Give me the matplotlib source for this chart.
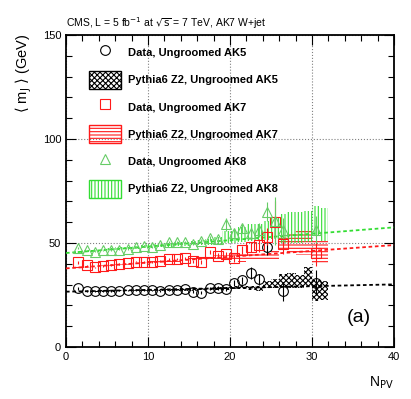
import numpy as np
import matplotlib
matplotlib.use("Agg")
import matplotlib.pyplot as plt
from matplotlib.patches import Patch
from matplotlib.lines import Line2D

plt.rcParams['font.family'] = ['Liberation Sans', 'DejaVu Sans']
plt.rcParams['hatch.linewidth'] = 0.8
plt.rcParams['axes.linewidth'] = 1.3

# --- data ---
npv_ak5 = [1.5, 2.5, 3.5, 4.5, 5.5, 6.5, 7.5, 8.5, 9.5, 10.5, 11.5, 12.5, 13.5, 14.5,
           15.5, 16.5, 17.5, 18.5, 19.5, 20.5, 21.5, 22.5, 23.5, 24.5, 26.5, 30.5]
mj_ak5 = [28.2, 26.9, 26.9, 26.9, 26.9, 27.1, 27.2, 27.4, 27.4, 27.2, 26.9, 27.2, 27.6, 28.0,
          26.6, 26.2, 28.2, 28.2, 27.9, 30.8, 32.0, 35.5, 32.5, 48.0, 26.8, 30.8]
err_ak5 = [0.6, 0.3, 0.3, 0.3, 0.3, 0.3, 0.3, 0.3, 0.3, 0.3, 0.4, 0.4, 0.4, 0.5,
           0.6, 0.7, 0.8, 0.9, 1.0, 1.3, 1.8, 3.0, 2.5, 4.0, 4.5, 6.0]

npv_ak7 = [1.5, 2.5, 3.5, 4.5, 5.5, 6.5, 7.5, 8.5, 9.5, 10.5, 11.5, 12.5, 13.5, 14.5,
           15.5, 16.5, 17.5, 18.5, 19.5, 20.5, 21.5, 22.5, 23.5, 24.5, 25.5, 26.5, 30.5]
mj_ak7 = [40.7, 39.2, 38.4, 39.0, 39.4, 39.9, 40.3, 41.1, 40.8, 40.9, 41.3, 42.2, 42.5, 42.6,
          41.2, 40.8, 45.5, 43.9, 44.5, 42.6, 46.6, 48.0, 48.8, 53.0, 60.0, 49.5, 45.0]
err_ak7 = [0.6, 0.3, 0.3, 0.3, 0.3, 0.3, 0.3, 0.3, 0.4, 0.4, 0.4, 0.5, 0.5, 0.6,
           0.7, 0.8, 1.0, 1.2, 1.4, 1.7, 2.0, 2.5, 3.0, 4.0, 10.0, 5.0, 6.0]

npv_ak8 = [1.5, 2.5, 3.5, 4.5, 5.5, 6.5, 7.5, 8.5, 9.5, 10.5, 11.5, 12.5, 13.5, 14.5,
           15.5, 16.5, 17.5, 18.5, 19.5, 20.5, 21.5, 22.5, 23.5, 24.5, 25.5, 26.5, 30.5]
mj_ak8 = [47.5, 46.4, 45.8, 46.4, 46.6, 46.8, 47.2, 48.0, 48.6, 48.1, 49.2, 50.6, 50.3, 50.5,
          49.6, 51.0, 52.3, 51.8, 59.0, 54.7, 57.0, 54.7, 56.3, 65.0, 60.7, 56.3, 56.3]
err_ak8 = [0.6, 0.3, 0.3, 0.3, 0.3, 0.3, 0.4, 0.4, 0.4, 0.5, 0.5, 0.5, 0.6, 0.7,
           0.8, 0.9, 1.1, 1.3, 3.0, 1.8, 2.2, 2.8, 3.2, 4.5, 11.5, 5.5, 6.5]

npv_mc = [1.5, 2.5, 3.5, 4.5, 5.5, 6.5, 7.5, 8.5, 9.5, 10.5, 11.5, 12.5, 13.5, 14.5, 15.5, 16.5,
          17.5, 18.5, 19.5, 20.5, 21.5, 22.5, 23.5, 24.5, 25.5, 26.5, 27.5, 28.5, 29.5, 30.5, 31.5]
mc_ak5 = [26.6, 26.7, 26.8, 26.9, 26.9, 27.0, 27.1, 27.2, 27.3, 27.3, 27.4, 27.5, 27.6, 27.6, 27.7, 27.8,
          27.9, 28.0, 28.1, 28.5, 29.0, 28.5, 28.0, 30.0, 30.5, 32.0, 32.0, 31.5, 34.0, 27.0, 27.0]
mc_ak5_err = [0.3, 0.3, 0.3, 0.3, 0.3, 0.3, 0.3, 0.3, 0.3, 0.4, 0.4, 0.4, 0.5, 0.5, 0.6, 0.6,
              0.7, 0.7, 0.8, 0.8, 1.0, 1.0, 1.2, 1.5, 2.0, 3.0, 3.5, 3.0, 4.5, 5.0, 4.5]
mc_ak7 = [38.2, 38.5, 38.8, 39.1, 39.3, 39.6, 39.9, 40.2, 40.5, 40.7, 41.0, 41.3, 41.6, 41.9, 42.1, 42.4,
          42.7, 43.0, 43.2, 43.0, 43.0, 43.5, 43.5, 43.0, 44.0, 50.0, 50.0, 50.0, 50.0, 46.0, 46.0]
mc_ak7_err = [0.3, 0.3, 0.3, 0.3, 0.3, 0.4, 0.4, 0.4, 0.4, 0.5, 0.5, 0.5, 0.6, 0.6, 0.7, 0.8,
              0.9, 1.0, 1.2, 1.5, 2.0, 1.5, 1.5, 1.5, 2.0, 4.0, 5.0, 6.0, 6.0, 6.0, 6.0]
mc_ak8 = [45.7, 46.0, 46.3, 46.6, 47.0, 47.3, 47.6, 47.9, 48.2, 48.5, 48.8, 49.1, 49.4, 49.7, 50.0, 50.3,
          50.6, 51.0, 53.0, 53.0, 54.0, 55.0, 55.0, 56.0, 57.0, 57.0, 57.5, 57.5, 58.0, 61.0, 59.0]
mc_ak8_err = [0.5, 0.5, 0.5, 0.5, 0.6, 0.6, 0.6, 0.7, 0.7, 0.8, 0.8, 0.9, 0.9, 1.0, 1.1, 1.2,
              1.5, 2.0, 3.0, 3.0, 3.5, 4.0, 4.0, 4.5, 5.0, 7.0, 7.5, 7.5, 7.5, 7.0, 8.0]

# linear fits (intercept, slope)
fit_ak5 = (26.6, 0.0875)
fit_ak7 = (37.8, 0.28)
fit_ak8 = (45.2, 0.308)

c_black = 'black'
c_red = '#ff1a1a'
c_green = '#33dd33'
c_green_pts = '#66cc66'

fig = plt.figure(figsize=(4.11, 3.99), dpi=100)
ax = fig.add_axes([66/411, 1-347/399, 328/411, 312/399])

def mc_boxes(center, err, color, hatch):
    center = np.array(center)
    err = np.array(err)
    ax.bar(npv_mc, 2*err, bottom=center-err, width=1.0, fill=False,
           hatch=hatch, edgecolor=color, linewidth=0, zorder=2)

mc_boxes(mc_ak5, mc_ak5_err, c_black, 'xxxxxx')
mc_boxes(mc_ak7, mc_ak7_err, c_red, '-----')
mc_boxes(mc_ak8, mc_ak8_err, c_green, '|||||')

xfit = np.linspace(0, 40, 50)
for (b, m), col in [(fit_ak5, c_black), (fit_ak7, c_red), (fit_ak8, c_green)]:
    ax.plot(xfit, b + m*xfit, ls=(0, (2, 1.5)), color=col, lw=1.3, zorder=3)

ax.errorbar(npv_ak5, mj_ak5, yerr=err_ak5, fmt='o', ms=7, mfc='none', mec=c_black,
            mew=0.8, ecolor=c_black, elinewidth=0.8, capsize=0, zorder=4)
ax.errorbar(npv_ak7, mj_ak7, yerr=err_ak7, fmt='s', ms=7.5, mfc='none', mec=c_red,
            mew=0.8, ecolor=c_red, elinewidth=0.8, capsize=0, zorder=4)
ax.errorbar(npv_ak8, mj_ak8, yerr=err_ak8, fmt='^', ms=7.5, mfc='none', mec=c_green_pts,
            mew=0.8, ecolor=c_green_pts, elinewidth=0.8, capsize=0, zorder=4)

ax.set_xlim(0, 40)
ax.set_ylim(0, 150)
ax.set_xticks([0, 10, 20, 30, 40])
ax.set_yticks([0, 50, 100, 150])
ax.set_xticks(np.arange(0, 41, 2), minor=True)
ax.set_yticks(np.arange(0, 151, 10), minor=True)
ax.tick_params(which='both', direction='in', top=True, right=True, labelsize=8)
ax.tick_params(which='major', length=7, width=0.8)
ax.tick_params(which='minor', length=4, width=0.8)
ax.grid(which='major', ls=':', color='gray', lw=0.8)

ax.text(0.0, 1.012, r'CMS, L = 5 fb$^{-1}$ at $\sqrt{\rm s}$ = 7 TeV, AK7 W+jet',
        transform=ax.transAxes, fontsize=7.5, ha='left', va='bottom')
ax.text(0.93, 0.096, '(a)', transform=ax.transAxes, fontsize=14, ha='right', va='center')
fig.text(24/411, 1-33/399, r'$\langle$ m$_{\rm J}$ $\rangle$ (GeV)', rotation=90,
         fontsize=10.5, ha='center', va='top')
fig.text(394/411, 1-383/399, r'N$_{\rm PV}$', fontsize=10, ha='right', va='center')

handles = [
    Line2D([], [], ls='none', marker='o', ms=7, mfc='none', mec=c_black, mew=0.8),
    Patch(facecolor='none', edgecolor=c_black, hatch='xxxxxx', lw=1.0),
    Line2D([], [], ls='none', marker='s', ms=7.5, mfc='none', mec=c_red, mew=0.8),
    Patch(facecolor='none', edgecolor=c_red, hatch='-----', lw=1.0),
    Line2D([], [], ls='none', marker='^', ms=7.5, mfc='none', mec=c_green_pts, mew=0.8),
    Patch(facecolor='none', edgecolor=c_green, hatch='|||||', lw=1.0),
]
labels = ['Data, Ungroomed AK5', 'Pythia6 Z2, Ungroomed AK5',
          'Data, Ungroomed AK7', 'Pythia6 Z2, Ungroomed AK7',
          'Data, Ungroomed AK8', 'Pythia6 Z2, Ungroomed AK8']
ax.legend(handles, labels, loc='upper left', bbox_to_anchor=(0.07, 0.972),
          frameon=False, borderpad=0, borderaxespad=0, numpoints=1,
          prop={'weight': 'bold', 'size': 8}, handlelength=2.9, handleheight=2.1,
          handletextpad=0.6, labelspacing=0.84)

fig.savefig('out.png', dpi=100)
